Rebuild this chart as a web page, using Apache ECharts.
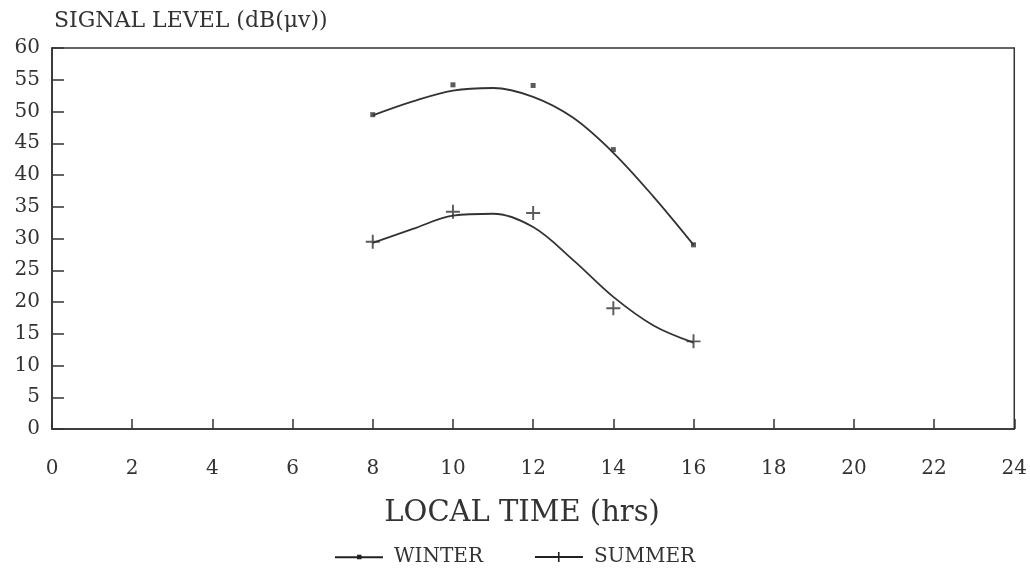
<!DOCTYPE html>
<html>
<head>
<meta charset="utf-8">
<script src="https://cdn.jsdelivr.net/npm/echarts@6/dist/echarts.min.js"></script>
<style>
  html, body { margin: 0; padding: 0; background: #fff; }
  #chart { width: 1030px; height: 578px; }
</style>
</head>
<body>
<div id="chart"></div>
<script>
// measured points (local time, dB(uV))
var hours = [8, 10, 12, 14, 16];
var winterPts = [49.5, 54.2, 54.1, 44, 29];
var summerPts = [29.5, 34.2, 34, 19, 13.8];

// fitted curves
var curveHours = [8, 9, 10, 11, 12, 13, 14, 15, 16];
var winterCurve = [49.4, 51.6, 53.3, 53.7, 52.3, 49, 43.5, 36.6, 29];
var summerCurve = [29.3, 31.5, 33.6, 33.9, 31.8, 26.6, 20.8, 16.3, 13.6];

var xTicks = [0, 2, 4, 6, 8, 10, 12, 14, 16, 18, 20, 22, 24];

var ink = '#333';
var font = 'DejaVu Serif';
var plusPath = 'path://M4.3,0h1.4v4.3h4.3v1.4h-4.3v4.3h-1.4v-4.3h-4.3v-1.4h4.3z';

function pairs(xs, ys) {
  return xs.map(function (x, i) { return [x, ys[i]]; });
}

var chart = echarts.init(document.getElementById('chart'));

var option = {
  backgroundColor: '#fff',
  animation: false,
  grid: {
    left: 52, right: 15, top: 48, bottom: 149,
    show: true, borderColor: ink, borderWidth: 1.5
  },
  legend: {
    bottom: 6,
    left: 330,
    itemGap: 52,
    itemWidth: 48,
    itemHeight: 10,
    data: [
      { name: 'WINTER', icon: 'path://M0,4h48v2h-48z M22,2.5h4.5v4.5h-4.5z' },
      { name: 'SUMMER', icon: 'path://M0,4h48v2h-48z M23,0h1.6v10h-1.6z' }
    ],
    itemStyle: { color: '#222' },
    textStyle: { fontFamily: font, fontSize: 20, color: ink, padding: [0, 0, 0, 6] }
  },
  xAxis: {
    type: 'value',
    min: 0, max: 24, interval: 2,
    name: 'LOCAL TIME (hrs)',
    nameLocation: 'middle',
    nameGap: 70,
    nameTextStyle: { fontFamily: font, fontSize: 29, color: ink, padding: [0, 22, 0, 0] },
    axisLine: { lineStyle: { color: ink, width: 1.6 } },
    axisTick: { inside: true, length: 10, lineStyle: { color: ink, width: 1.5 } },
    axisLabel: {
      margin: 30, fontFamily: font, fontSize: 20, color: ink,
      customValues: xTicks
    },
    splitLine: { show: false }
  },
  yAxis: {
    type: 'value',
    min: 0, max: 60, interval: 5,
    name: 'SIGNAL LEVEL (dB(μv))',
    nameLocation: 'end',
    nameGap: 16,
    nameTextStyle: { fontFamily: font, fontSize: 22, color: ink, align: 'left', padding: [0, 0, 0, 2] },
    axisLine: { lineStyle: { color: ink, width: 1.6 } },
    axisTick: { inside: true, length: 12, lineStyle: { color: ink, width: 1.5 } },
    axisLabel: { margin: 12, fontFamily: font, fontSize: 20, color: ink },
    splitLine: { show: false }
  },
  series: [
    {
      name: 'WINTER',
      type: 'line',
      smooth: 0.35,
      showSymbol: false,
      data: pairs(curveHours, winterCurve),
      lineStyle: { color: ink, width: 1.8 },
      itemStyle: { color: ink }
    },
    {
      name: 'WINTER',
      type: 'scatter',
      symbol: 'rect',
      symbolSize: 5,
      data: pairs(hours, winterPts),
      itemStyle: { color: ink }
    },
    {
      name: 'SUMMER',
      type: 'line',
      smooth: 0.35,
      showSymbol: false,
      data: pairs(curveHours, summerCurve),
      lineStyle: { color: ink, width: 1.8 },
      itemStyle: { color: ink }
    },
    {
      name: 'SUMMER',
      type: 'scatter',
      symbol: plusPath,
      symbolSize: 14,
      data: pairs(hours, summerPts),
      itemStyle: { color: ink }
    }
  ]
};

chart.setOption(option);
</script>
</body>
</html>
